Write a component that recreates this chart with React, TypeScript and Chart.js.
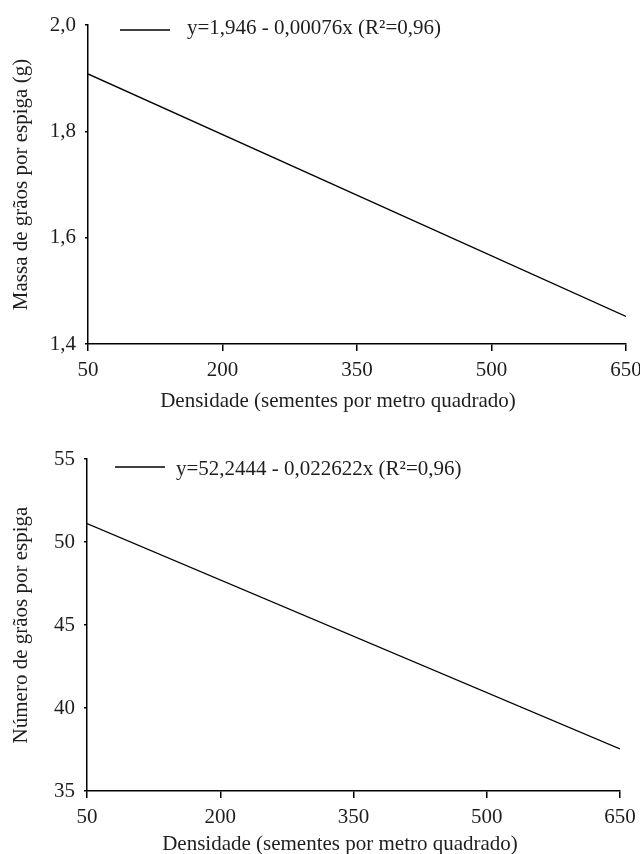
import React, { useEffect, useRef } from "react";
import { Chart, registerables } from "chart.js";

Chart.register(...registerables);

// ---- data ----
const densityX = [50, 650];
const massValues = [1.908, 1.452];
const grainValues = [51.11, 37.54];
const xTicks = [50, 200, 350, 500, 650];
const massTicks = [1.4, 1.6, 1.8, 2.0];
const grainTicks = [35, 40, 45, 50, 55];
const massLabel = "y=1,946 - 0,00076x (R²=0,96)";
const grainLabel = "y=52,2444 - 0,022622x (R²=0,96)";
const xTitle = "Densidade (sementes por metro quadrado)";
const massTitle = "Massa de grãos por espiga (g)";
const grainTitle = "Número de grãos por espiga";

const FONT = '"Liberation Serif", "Times New Roman", serif';
const TEXT = "#1e1e1e";
const FS = 21;

const eqLegend = {
  id: "eqLegend",
  afterDraw(chart: any, _args: any, opts: any) {
    const { ctx, chartArea } = chart;
    const ds = chart.data.datasets[0];
    const y = chartArea.top + opts.dy;
    const x0 = chartArea.left + opts.dx;
    ctx.save();
    ctx.strokeStyle = "#000";
    ctx.lineWidth = 1.3;
    ctx.beginPath();
    ctx.moveTo(x0, y);
    ctx.lineTo(x0 + opts.len, y);
    ctx.stroke();
    ctx.font = `${FS}px ${FONT}`;
    ctx.fillStyle = TEXT;
    ctx.textBaseline = "middle";
    ctx.textAlign = "left";
    ctx.fillText(ds.label, x0 + opts.len + opts.gap, y + opts.tdy);
    // x-axis title
    ctx.textAlign = "center";
    ctx.fillText(opts.xTitle, opts.titleX, chartArea.bottom + opts.titleDy);
    ctx.restore();
  },
};

type Cfg = {
  values: number[];
  label: string;
  yTicks: number[];
  yMin: number;
  yMax: number;
  yTitle: string;
  fmt: (v: number) => string;
  padTop: number;
  padRight: number;
  xHeight: number;
  yWidth: number;
  xTickPad: number;
  legend: { dx: number; dy: number; len: number; gap: number; tdy: number; titleX: number; titleDy: number; xTitle: string };
};

function ChartPanel({ cfg }: { cfg: Cfg }) {
  const ref = useRef<HTMLCanvasElement | null>(null);
  useEffect(() => {
    if (!ref.current) return;
    const points = densityX.map((x, i) => ({ x, y: cfg.values[i] }));
    const chart = new Chart(ref.current, {
      type: "scatter",
      data: {
        datasets: [
          {
            label: cfg.label,
            data: points,
            showLine: true,
            borderColor: "#000",
            borderWidth: 1.3,
            pointRadius: 0,
            fill: false,
          },
        ],
      },
      options: {
        animation: false,
        responsive: false,
        layout: {
          padding: { top: cfg.padTop, right: cfg.padRight, bottom: 0, left: 0 },
        },
        plugins: {
          legend: { display: false },
          tooltip: { enabled: false },
          eqLegend: cfg.legend,
        } as any,
        scales: {
          x: {
            type: "linear",
            min: 50,
            max: 650,
            afterBuildTicks: (s: any) => {
              s.ticks = xTicks.map((v) => ({ value: v }));
            },
            afterFit: (s: any) => {
              s.height = cfg.xHeight;
              s.paddingLeft = 0;
              s.paddingRight = 0;
            },
            border: { display: true, color: "#000", width: 1.5 },
            grid: {
              display: true,
              drawOnChartArea: false,
              drawTicks: true,
              tickLength: 7,
              color: "#000",
              lineWidth: 1.5,
            },
            ticks: {
              color: TEXT,
              font: { family: FONT, size: FS },
              padding: cfg.xTickPad,
              maxRotation: 0,
              autoSkip: false,
              callback: (v: any) => String(v),
            },
            title: { display: false },
          },
          y: {
            type: "linear",
            min: cfg.yMin,
            max: cfg.yMax,
            afterBuildTicks: (s: any) => {
              s.ticks = cfg.yTicks.map((v) => ({ value: v }));
            },
            afterFit: (s: any) => {
              s.width = cfg.yWidth;
            },
            border: { display: true, color: "#000", width: 1.5 },
            grid: {
              display: true,
              drawOnChartArea: false,
              drawTicks: true,
              tickLength: 3,
              color: "#000",
              lineWidth: 1.5,
            },
            ticks: {
              color: TEXT,
              font: { family: FONT, size: FS },
              padding: 9,
              autoSkip: false,
              callback: (v: any) => cfg.fmt(Number(v)),
            },
            title: {
              display: true,
              text: cfg.yTitle,
              color: TEXT,
              font: { family: FONT, size: FS, lineHeight: 1.2 },
              padding: { top: 9, bottom: 0 },
            },
          },
        },
      },
      plugins: [eqLegend],
    });
    return () => chart.destroy();
  }, [cfg]);
  return <canvas ref={ref} width={640} height={427} style={{ display: "block", width: 640, height: 427 }} />;
}

const topCfg: Cfg = {
  values: massValues,
  label: massLabel,
  yTicks: massTicks,
  yMin: 1.4,
  yMax: 2.0,
  yTitle: massTitle,
  fmt: (v) => v.toFixed(1).replace(".", ","),
  padTop: 25,
  padRight: 14,
  xHeight: 83,
  yWidth: 88,
  xTickPad: 7,
  legend: { dx: 32, dy: 5, len: 50, gap: 17, tdy: -2, titleX: 338, titleDy: 57, xTitle },
};

const bottomCfg: Cfg = {
  values: grainValues,
  label: grainLabel,
  yTicks: grainTicks,
  yMin: 35,
  yMax: 55,
  yTitle: grainTitle,
  fmt: (v) => String(v),
  padTop: 32,
  padRight: 20,
  xHeight: 63,
  yWidth: 87,
  xTickPad: 7,
  legend: { dx: 28, dy: 8, len: 50, gap: 11, tdy: 2, titleX: 340, titleDy: 53, xTitle },
};

export default function App() {
  return (
    <div style={{ position: "absolute", left: 0, top: 0, width: 640, height: 854, background: "#fff" }}>
      <ChartPanel cfg={topCfg} />
      <ChartPanel cfg={bottomCfg} />
    </div>
  );
}
